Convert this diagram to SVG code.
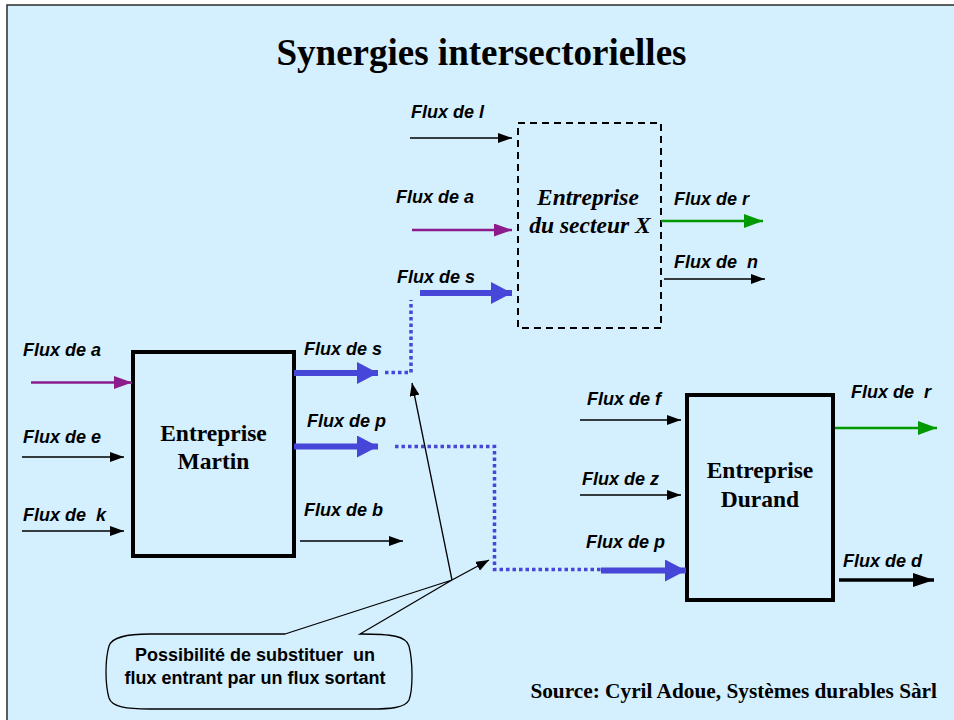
<svg xmlns="http://www.w3.org/2000/svg" width="954" height="720" viewBox="0 0 954 720">
  <style>
    .title { font-family: "Liberation Serif", "Times New Roman", serif; font-weight: bold; font-size: 37px; fill: #000; }
    .box { fill: none; stroke: #000; stroke-width: 4; }
    .boxDash { fill: none; stroke: #000; stroke-width: 2; stroke-dasharray: 7 5; }
    .name { font-family: "Liberation Serif", "Times New Roman", serif; font-weight: bold; font-size: 23.5px; fill: #000; }
    .nameIt { font-family: "Liberation Serif", "Times New Roman", serif; font-weight: bold; font-style: italic; font-size: 23.5px; fill: #000; }
    .lbl { font-family: "Liberation Sans", Arial, sans-serif; font-weight: bold; font-style: italic; font-size: 18px; fill: #000; }
    .note { font-family: "Liberation Sans", Arial, sans-serif; font-weight: bold; font-size: 18px; fill: #000; }
    .src { font-family: "Liberation Serif", "Times New Roman", serif; font-weight: bold; font-size: 21.3px; fill: #000; }
    .thin { stroke: #000; stroke-width: 1.5; fill: none; marker-end: url(#hBlack); }
    .purple { stroke: #8c1c8c; stroke-width: 2.5; fill: none; marker-end: url(#hPurple); }
    .green { stroke: #009a00; stroke-width: 2.5; fill: none; marker-end: url(#hGreen); }
    .blue { stroke: #4646d8; stroke-width: 6; fill: none; marker-end: url(#hBlue); }
    .dots { stroke: #4646d8; stroke-width: 3.5; fill: none; stroke-dasharray: 3.5 3; }
    .heavy { stroke: #000; stroke-width: 3.5; fill: none; marker-end: url(#hHeavy); }
    .pointer { stroke: #000; stroke-width: 1.3; fill: none; marker-end: url(#hPointer); }
  </style>
  <defs>
    <marker id="hBlack" markerUnits="userSpaceOnUse" markerWidth="14" markerHeight="10" refX="14" refY="5" orient="auto">
      <path d="M0,0 L14,5 L0,10 z" fill="#000"/>
    </marker>
    <marker id="hPurple" markerUnits="userSpaceOnUse" markerWidth="18" markerHeight="13" refX="18" refY="6.5" orient="auto">
      <path d="M0,0 L18,6.5 L0,13 z" fill="#8c1c8c"/>
    </marker>
    <marker id="hGreen" markerUnits="userSpaceOnUse" markerWidth="19" markerHeight="14" refX="19" refY="7" orient="auto">
      <path d="M0,0 L19,7 L0,14 z" fill="#009a00"/>
    </marker>
    <marker id="hBlue" markerUnits="userSpaceOnUse" markerWidth="21" markerHeight="22" refX="21" refY="11" orient="auto">
      <path d="M0,0 L21,11 L0,22 z" fill="#4646d8"/>
    </marker>
    <marker id="hHeavy" markerUnits="userSpaceOnUse" markerWidth="21" markerHeight="14" refX="21" refY="7" orient="auto">
      <path d="M0,0 L21,7 L0,14 z" fill="#000"/>
    </marker>
    <marker id="hPointer" markerUnits="userSpaceOnUse" markerWidth="13" markerHeight="10" refX="13" refY="5" orient="auto">
      <path d="M0,0 L13,5 L0,10 z" fill="#000"/>
    </marker>
  </defs>

  <!-- slide background and frame -->
  <rect x="0" y="0" width="954" height="720" fill="#ffffff"/>
  <rect x="7" y="5" width="947" height="715" fill="#d4effd"/>
  <path d="M7,720 V5 H954" fill="none" stroke="#2b2b2b" stroke-width="1.5"/>

  <g id="title">
    <text class="title" x="481.5" y="65" text-anchor="middle">Synergies intersectorielles</text>
  </g>

  <g id="martin">
    <rect class="box" x="133" y="352" width="161" height="204"/>
    <text class="name" x="213.5" y="441" text-anchor="middle">Entreprise</text>
    <text class="name" x="213.5" y="469" text-anchor="middle">Martin</text>
  </g>

  <g id="secteur-x">
    <rect class="boxDash" x="518" y="123" width="143" height="205"/>
    <text class="nameIt" x="588" y="205" text-anchor="middle">Entreprise</text>
    <text class="nameIt" x="590" y="233" text-anchor="middle">du secteur X</text>
  </g>

  <g id="durand">
    <rect class="box" x="687" y="395" width="146" height="205"/>
    <text class="name" x="760" y="478" text-anchor="middle">Entreprise</text>
    <text class="name" x="760" y="507" text-anchor="middle">Durand</text>
  </g>

  <g id="connectors">
    <!-- inputs of Martin -->
    <line class="purple" x1="31" y1="382.5" x2="132" y2="382.5"/>
    <line class="thin" x1="22" y1="457" x2="124" y2="457"/>
    <line class="thin" x1="22" y1="531" x2="124" y2="531"/>
    <!-- outputs of Martin -->
    <line class="blue" x1="294" y1="373" x2="378" y2="373"/>
    <line class="blue" x1="294" y1="446.5" x2="378" y2="446.5"/>
    <line class="thin" x1="300" y1="541" x2="403" y2="541"/>
    <!-- substitution paths -->
    <path class="dots" d="M385,372.5 H411 V300"/>
    <path class="dots" d="M395,446.5 H494.5 V569.5 H601"/>
    <!-- inputs of sector X -->
    <line class="thin" x1="410" y1="138" x2="512" y2="138"/>
    <line class="purple" x1="412" y1="230" x2="512" y2="230"/>
    <line class="blue" x1="420" y1="293" x2="512" y2="293"/>
    <!-- outputs of sector X -->
    <line class="green" x1="661" y1="221" x2="763" y2="221"/>
    <line class="thin" x1="664" y1="279" x2="765" y2="279"/>
    <!-- inputs of Durand -->
    <line class="thin" x1="580" y1="420" x2="681" y2="420"/>
    <line class="thin" x1="580" y1="495" x2="681" y2="495"/>
    <line class="blue" x1="601" y1="570.5" x2="686" y2="570.5"/>
    <!-- outputs of Durand -->
    <line class="green" x1="835" y1="428" x2="937" y2="428"/>
    <line class="heavy" x1="839" y1="580" x2="934" y2="580"/>
    <!-- callout pointers -->
    <line class="pointer" x1="452" y1="580" x2="412" y2="383"/>
    <line class="pointer" x1="452" y1="580" x2="489" y2="560"/>

    <!-- flow labels -->
    <text class="lbl" x="23" y="356">Flux de a</text>
    <text class="lbl" x="23" y="443">Flux de e</text>
    <text class="lbl" x="23" y="521" xml:space="preserve">Flux de  k</text>
    <text class="lbl" x="304" y="355">Flux de s</text>
    <text class="lbl" x="307" y="427">Flux de p</text>
    <text class="lbl" x="304" y="516">Flux de b</text>
    <text class="lbl" x="411" y="118">Flux de l</text>
    <text class="lbl" x="396" y="203">Flux de a</text>
    <text class="lbl" x="397" y="283">Flux de s</text>
    <text class="lbl" x="674" y="205">Flux de r</text>
    <text class="lbl" x="674" y="268" xml:space="preserve">Flux de  n</text>
    <text class="lbl" x="587" y="405">Flux de f</text>
    <text class="lbl" x="582" y="485">Flux de z</text>
    <text class="lbl" x="586" y="548">Flux de p</text>
    <text class="lbl" x="851" y="398" xml:space="preserve">Flux de  r</text>
    <text class="lbl" x="843" y="567">Flux de d</text>
  </g>

  <g id="callout">
    <path d="M285,634 L452,580 L360,634 C392,634 406,636 409,646 C413,662 413,690 409,700 C405,708 390,709 370,709 L150,709 C126,709 112,707 109,698 C105,684 105,660 109,646 C112,637 126,634 150,634 Z" fill="#d4effd" stroke="#000" stroke-width="1.3"/>
    <text class="note" x="255" y="661" text-anchor="middle" xml:space="preserve">Possibilité de substituer  un</text>
    <text class="note" x="255" y="684" text-anchor="middle">flux entrant par un flux sortant</text>
  </g>

  <g id="source">
    <text class="src" x="937" y="698" text-anchor="end">Source: Cyril Adoue, Systèmes durables Sàrl</text>
  </g>
</svg>
